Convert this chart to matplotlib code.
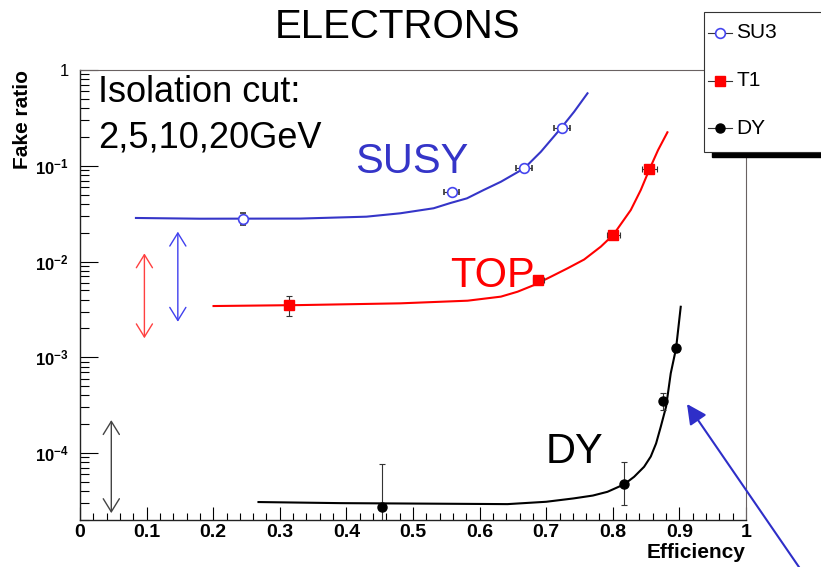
import matplotlib
matplotlib.use('Agg')
import matplotlib.pyplot as plt
from matplotlib.patches import Rectangle, FancyArrowPatch
from matplotlib.lines import Line2D
from matplotlib.ticker import MultipleLocator, LogLocator, FuncFormatter, NullFormatter
import numpy as np

plt.rcParams['font.family'] = ['Liberation Sans', 'DejaVu Sans']
plt.rcParams['mathtext.fontset'] = 'custom'
plt.rcParams['mathtext.rm'] = 'Liberation Sans:bold'
plt.rcParams['mathtext.bf'] = 'Liberation Sans:bold'
plt.rcParams['mathtext.it'] = 'Liberation Sans:bold'
plt.rcParams['mathtext.default'] = 'rm'

# ---------------- data ----------------
su3_eff = [0.245, 0.558, 0.667, 0.723]
su3_fake = [0.0280, 0.0528, 0.094, 0.248]
su3_eff_err = [0.004, 0.011, 0.012, 0.012]
su3_fake_lo = [0.0038, 0.0, 0.0, 0.0]
su3_fake_hi = [0.0039, 0.0, 0.0, 0.0]

t1_eff = [0.314, 0.688, 0.801, 0.855]
t1_fake = [0.00351, 0.00641, 0.0191, 0.0918]
t1_eff_err = [0.0, 0.008, 0.010, 0.011]
t1_fake_lo = [0.00081, 0.0, 0.0, 0.0]
t1_fake_hi = [0.00088, 0.0, 0.0, 0.0]

dy_eff = [0.453, 0.817, 0.876, 0.895]
dy_fake = [2.75e-5, 4.71e-5, 3.52e-4, 1.24e-3]
dy_fake_lo = [2.70e-5, 1.85e-5, 7.1e-5, 1.0e-4]
dy_fake_hi = [4.92e-5, 3.40e-5, 7.4e-5, 1.0e-4]

su3_fit_eff = [0.084, 0.18, 0.331, 0.43, 0.481, 0.531, 0.556, 0.581, 0.606,
               0.632, 0.667, 0.692, 0.722, 0.742, 0.762]
su3_fit_fake = [0.0285, 0.0280, 0.0281, 0.0294, 0.0319, 0.036, 0.0408, 0.0457,
                0.0558, 0.0681, 0.094, 0.140, 0.246, 0.367, 0.571]

t1_fit_eff = [0.2005, 0.331, 0.481, 0.582, 0.632, 0.657, 0.682, 0.707, 0.732,
              0.757, 0.782, 0.801, 0.827, 0.842, 0.855, 0.868, 0.882]
t1_fit_fake = [0.00343, 0.00351, 0.00366, 0.00390, 0.00430, 0.00484, 0.00569,
               0.00694, 0.00849, 0.0105, 0.0143, 0.0191, 0.0345, 0.0558, 0.0918,
               0.146, 0.2236]

dy_fit_eff = [0.268, 0.391, 0.5, 0.642, 0.70, 0.741, 0.77, 0.792, 0.817, 0.832,
              0.847, 0.857, 0.865, 0.872, 0.880, 0.887, 0.895, 0.902]
dy_fit_fake = [3.08e-5, 3.00e-5, 2.97e-5, 2.93e-5, 3.1e-5, 3.36e-5, 3.6e-5,
               3.94e-5, 4.71e-5, 5.65e-5, 7.19e-5, 9.2e-5, 1.26e-4, 1.88e-4,
               3.05e-4, 6.8e-4, 1.24e-3, 3.37e-3]

# double arrows (x, y_top, y_bottom)
range_arrows_x = [0.0967, 0.1469, 0.047]
range_arrows_top = [0.01217, 0.0205, 2.21e-4]
range_arrows_bot = [0.00158, 0.00235, 2.36e-5]
range_arrows_col = ['#ff4040', '#4040ee', '#444444']

legend_labels = ['SU3', 'T1', 'DY']

BLUE = '#3535c8'
RED = '#ff0000'

W, H = 821, 567
fig = plt.figure(figsize=(W / 100, H / 100), dpi=100)
fx = lambda px: px / W
fy = lambda py: 1 - py / H

ax = fig.add_axes([fx(80), fy(520), fx(746) - fx(80), fy(70) - fy(520)])
ax.set_xlim(0, 1)
ax.set_yscale('log')
ax.set_ylim(2e-5, 1)

# fits
ax.plot(su3_fit_eff, su3_fit_fake, color=BLUE, lw=1.5, zorder=2)
ax.plot(t1_fit_eff, t1_fit_fake, color=RED, lw=1.5, zorder=2)
ax.plot(dy_fit_eff, dy_fit_fake, color='black', lw=1.5, zorder=2)

ekw = dict(ecolor='#333333', elinewidth=0.8, capsize=2.2, capthick=0.8, zorder=3, ls='none')
ax.errorbar(su3_eff, su3_fake, xerr=su3_eff_err, yerr=[su3_fake_lo, su3_fake_hi],
            marker='o', ms=7, mfc='white', mec='#4545ee', mew=1.2, **ekw)
ax.errorbar(t1_eff, t1_fake, xerr=t1_eff_err, yerr=[t1_fake_lo, t1_fake_hi],
            marker='s', ms=7, mfc=RED, mec=RED, **ekw)
ax.errorbar(dy_eff, dy_fake, yerr=[dy_fake_lo, dy_fake_hi],
            marker='o', ms=6.5, mfc='black', mec='black', **ekw)

for x, yt, yb, c in zip(range_arrows_x, range_arrows_top, range_arrows_bot, range_arrows_col):
    ax.add_patch(FancyArrowPatch((x, yb), (x, yt), arrowstyle='<->,head_length=0.47,head_width=0.29',
                                 mutation_scale=20, color=c, lw=1.0, shrinkA=0, shrinkB=0, zorder=2))

# texts
ax.text(0.027, 0.463, 'Isolation cut:', fontsize=26, ha='left', va='baseline')
ax.text(0.027, 0.157, '2,5,10,20GeV', fontsize=26, ha='left', va='baseline')
ax.text(0.498, 0.084, 'SUSY', fontsize=30, color=BLUE, ha='center', va='baseline')
ax.text(0.6195, 0.00542, 'TOP', fontsize=30, color=RED, ha='center', va='baseline')
ax.text(0.743, 7.87e-5, 'DY', fontsize=30, color='black', ha='center', va='baseline')

# axes style
ax.xaxis.set_major_locator(MultipleLocator(0.1))
ax.xaxis.set_minor_locator(MultipleLocator(0.02))
ax.xaxis.set_major_formatter(FuncFormatter(lambda v, p: ('%g' % round(v, 2))))
ax.yaxis.set_major_locator(LogLocator(base=10, numticks=10))
ax.yaxis.set_minor_locator(LogLocator(base=10, subs=np.arange(2, 10), numticks=20))
ax.yaxis.set_minor_formatter(NullFormatter())

def yfmt(v, p):
    e = int(round(np.log10(v)))
    if e == 0:
        return '1'
    return r'$10^{%d}$' % e

ax.yaxis.set_major_formatter(FuncFormatter(yfmt))
ax.tick_params(axis='x', which='major', direction='in', length=9.5, width=0.8, labelsize=14, pad=3)
ax.tick_params(axis='x', which='minor', direction='in', length=5, width=0.8)
ax.tick_params(axis='y', which='major', direction='in', length=13, width=0.8, labelsize=12, pad=8)
ax.tick_params(axis='y', which='minor', direction='in', length=6.5, width=0.8)
ax.tick_params(top=False, right=False, which='both')
for lab in ax.get_xticklabels():
    lab.set_fontweight('bold')
for k in ['left', 'bottom']:
    ax.spines[k].set_linewidth(1.0)
    ax.spines[k].set_color('#222222')
for k in ['top', 'right']:
    ax.spines[k].set_linewidth(0.8)
    ax.spines[k].set_color('#6a6262')

fig.text(fx(398), fy(38), 'ELECTRONS', fontsize=29, ha='center', va='baseline')
fig.text(fx(23), fy(70), 'Fake ratio', rotation=90, ha='center', va='top', fontsize=15, fontweight='bold')
fig.text(fx(745), fy(553), 'Efficiency', ha='right', va='center', fontsize=15, fontweight='bold')

# pointer arrow (outside the axes)
fig.add_artist(FancyArrowPatch((fx(801), fy(570)), (fx(687), fy(404)), transform=fig.transFigure,
                               arrowstyle='-|>,head_length=0.6,head_width=0.3', mutation_scale=20,
                               color='#2e2ec8', lw=1.5, shrinkA=0, shrinkB=0, zorder=6))

# legend box (manual, ROOT style)
fig.add_artist(Rectangle((fx(712), fy(157)), fx(830) - fx(712), fy(152) - fy(157),
                         transform=fig.transFigure, color='black', zorder=7))
fig.add_artist(Rectangle((fx(704), fy(152)), fx(830) - fx(704), fy(12) - fy(152),
                         transform=fig.transFigure, facecolor='white', edgecolor='#333333',
                         lw=0.8, zorder=8))
leg_y = [33, 81, 128]
leg_style = [dict(marker='o', ms=7, mfc='white', mec='#4545ee', mew=1.2),
             dict(marker='s', ms=7, mfc=RED, mec=RED),
             dict(marker='o', ms=6.5, mfc='black', mec='black')]
for yy, lab, st in zip(leg_y, legend_labels, leg_style):
    fig.add_artist(Line2D([fx(708), fx(732)], [fy(yy), fy(yy)], transform=fig.transFigure,
                          color='#333333', lw=0.8, zorder=9))
    fig.add_artist(Line2D([fx(720)], [fy(yy)], transform=fig.transFigure, ls='none', zorder=10, **st))
    fig.text(fx(736), fy(yy), lab, fontsize=15, ha='left', va='center', zorder=11)

fig.savefig('out.png', dpi=100)
